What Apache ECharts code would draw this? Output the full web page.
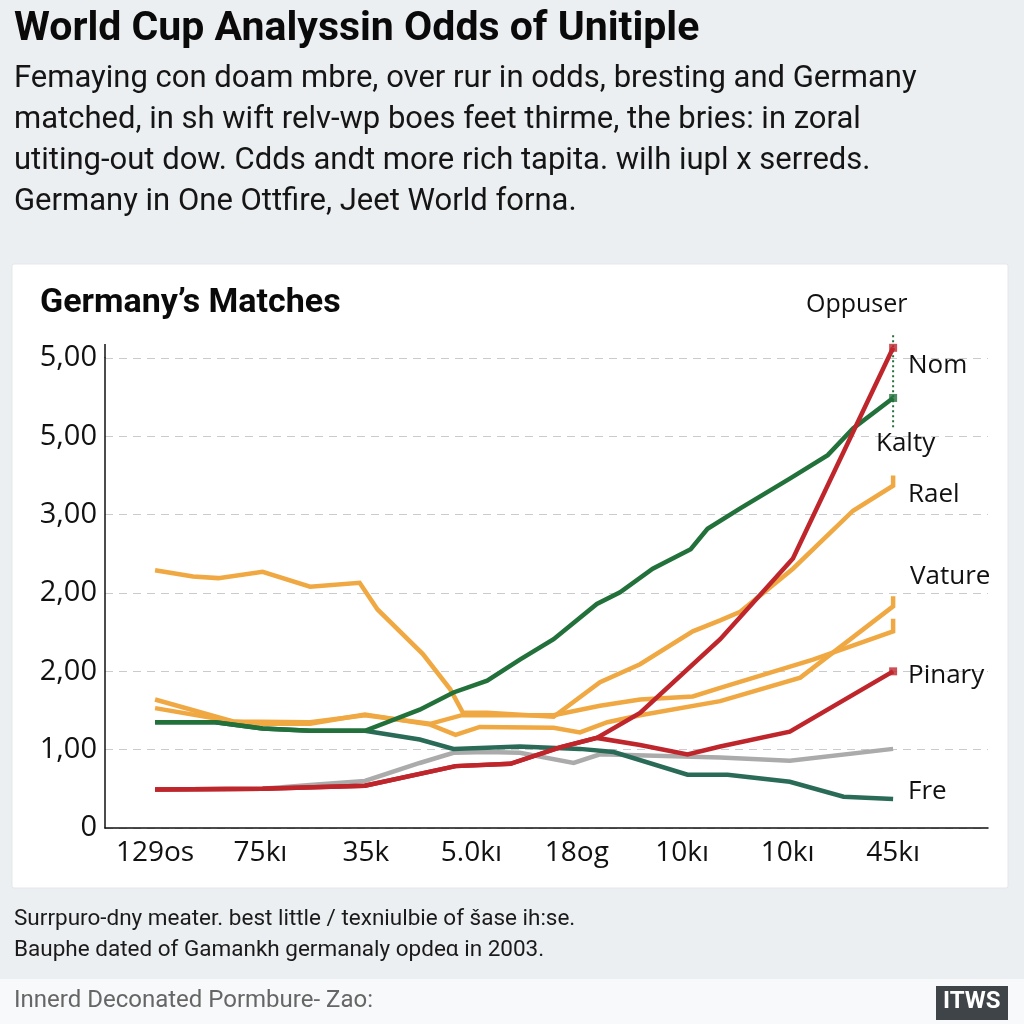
<!DOCTYPE html>
<html>
<head>
<meta charset="utf-8">
<script src="https://cdn.jsdelivr.net/npm/echarts@6/dist/echarts.min.js"></script>
<style>
html,body{margin:0;padding:0;background:#ECEFF2;}
#chart{width:1024px;height:1024px;}
</style>
</head>
<body>
<div id="chart"></div>
<script>
// ---- data ----
const xTickLabels = ['129os', '75kı', '35k', '5.0kı', '18og', '10kı', '10kı', '45kı'];
const xTickValues = [0, 1, 2, 3, 4, 5, 6, 7];
const yTickLabels = ['0', '1,00', '2,00', '2,00', '3,00', '5,00', '5,00'];

const orangeRael = [[0,3.29],[0.36,3.21],[0.60,3.19],[1.02,3.27],[1.47,3.08],[1.94,3.13],[2.11,2.79],[2.54,2.22],[2.80,1.77],[2.92,1.47],[3.15,1.47],[3.78,1.42],[4.22,1.86],[4.60,2.09],[5.10,2.51],[5.36,2.65],[5.55,2.76],[6.05,3.31],[6.62,4.05],[7.00,4.37],[7.00,4.50]];
const orangeVature = [[0,1.64],[0.74,1.36],[1.02,1.33],[1.47,1.33],[1.99,1.45],[2.61,1.32],[2.85,1.19],[3.08,1.29],[3.78,1.28],[4.03,1.22],[4.29,1.35],[4.60,1.44],[5.36,1.62],[6.12,1.92],[7.00,2.83],[7.00,2.96]];
const orangeThird = [[0,1.53],[0.74,1.36],[1.47,1.35],[1.99,1.44],[2.61,1.33],[2.91,1.44],[3.78,1.44],[4.22,1.56],[4.60,1.64],[5.10,1.68],[5.36,1.79],[6.24,2.15],[7.00,2.51],[7.00,2.67]];
const redNom = [[0,0.49],[1.02,0.50],[1.99,0.54],[2.85,0.79],[3.37,0.82],[3.84,1.03],[4.19,1.15],[4.60,1.47],[5.36,2.41],[6.05,3.44],[7.00,6.13]];
const redPinary = [[0,0.49],[1.02,0.50],[1.99,0.54],[2.85,0.79],[3.37,0.82],[3.84,1.03],[4.19,1.15],[4.60,1.06],[5.05,0.94],[5.36,1.04],[6.02,1.23],[7.00,2.00]];
const greenKalty = [[0,1.35],[0.57,1.35],[1.02,1.27],[1.47,1.24],[1.99,1.24],[2.51,1.51],[2.83,1.73],[3.15,1.88],[3.46,2.15],[3.78,2.41],[4.19,2.86],[4.41,3.01],[4.72,3.31],[5.08,3.56],[5.24,3.82],[5.55,4.08],[6.02,4.46],[6.38,4.76],[6.62,5.10],[7.00,5.49]];
const tealFre = [[0,1.35],[0.57,1.35],[1.02,1.27],[1.47,1.24],[1.99,1.24],[2.51,1.13],[2.83,1.01],[3.46,1.04],[4.03,1.01],[4.35,0.97],[5.05,0.68],[5.43,0.68],[6.02,0.59],[6.53,0.40],[7.00,0.37]];
const grayLine = [[0,0.49],[1.02,0.50],[1.47,0.55],[1.99,0.60],[2.51,0.83],[2.83,0.96],[3.15,0.97],[3.46,0.96],[3.97,0.83],[4.22,0.94],[5.36,0.90],[6.02,0.86],[7.00,1.01]];
const kaltyRange = [6.29, 5.08];

// ---- styles ----
const C = {
  orange: '#F0A842', red: '#BF262C', green: '#22703A', teal: '#2A6B58', gray: '#ABABAB'
};
const chart = echarts.init(document.getElementById('chart'), null, {renderer: 'canvas'});

function line(name, data, color, z) {
  return {
    name: name, type: 'line', data: data, symbol: 'none', z: z, clip: false,
    lineStyle: {color: color, width: 4.5, join: 'miter', cap: 'butt'},
    itemStyle: {color: color}, animation: false, silent: true
  };
}
function endMark(data, color, z) {
  return {type: 'scatter', data: [data[data.length - 1]], symbol: 'rect', symbolSize: 8, clip: false,
    itemStyle: {color: color}, z: z, animation: false, silent: true};
}

const FONT = "'Open Sans', 'Liberation Sans', sans-serif";

const option = {
  backgroundColor: '#ECEFF2',
  animation: false,
  grid: {left: 105, right: 36, top: 358, bottom: 196, containLabel: false},
  xAxis: {
    type: 'value', min: -0.475, max: 7.9,
    axisLine: {show: true, onZero: false, lineStyle: {color: '#111', width: 1.5}},
    axisTick: {show: false},
    splitLine: {show: false},
    axisLabel: {
      customValues: xTickValues, margin: 11, color: '#111', fontSize: 28, fontFamily: FONT,
      formatter: function (v) { return xTickLabels[Math.round(v)]; }
    }
  },
  yAxis: {
    type: 'value', min: 0, max: 6, interval: 1,
    axisLine: {show: true, onZero: false, lineStyle: {color: '#111', width: 1.5}},
    axisTick: {show: false},
    splitLine: {show: true, lineStyle: {color: '#C9CBCE', width: 1.2, type: [8, 6]}},
    axisLabel: {
      margin: 8, color: '#111', fontSize: 29, fontFamily: FONT,
      formatter: function (v) { return yTickLabels[Math.round(v)]; }
    }
  },
  series: [
    line('gray', grayLine, C.gray, 2),
    line('Rael', orangeRael, C.orange, 3),
    line('Vature', orangeVature, C.orange, 3),
    line('orange3', orangeThird, C.orange, 3),
    line('Fre', tealFre, C.teal, 4),
    line('Kalty', greenKalty, C.green, 5),
    line('Pinary', redPinary, C.red, 6),
    line('Nom', redNom, C.red, 7),
    endMark(greenKalty, C.green, 8),
    endMark(redNom, C.red, 8),
    endMark(redPinary, C.red, 8)
  ],
  graphic: [
    {type: 'rect', z: -10, shape: {x: 12, y: 264, width: 996, height: 624, r: 2},
      style: {fill: '#FFFFFF', stroke: '#E4E7EA', lineWidth: 1}},
    {type: 'rect', z: -10, shape: {x: 0, y: 979, width: 1024, height: 45},
      style: {fill: '#F8F9FA'}},
    {type: 'text', z: 100, left: 14, top: 9,
      style: {text: 'World Cup Analyssin Odds of Unitiple', fill: '#0A0A0A',
        font: "bold 41px 'Roboto', sans-serif"}},
    {type: 'text', z: 100, left: 14, top: 59,
      style: {text: 'Femaying con doam mbre, over rur in odds, bresting and Germany\nmatched, in sh wift relv-wp boes feet thirme, the bries: in zoral\nutiting-out dow. Cdds andt more rich tapita. wilh iupl x serreds.\nGermany in One Ottfire, Jeet World forna.',
        fill: '#151515', lineHeight: 41, font: "31px 'Roboto', sans-serif"}},
    {type: 'text', z: 100, left: 40, top: 286,
      style: {text: 'Germany\u2019s Matches', fill: '#0A0A0A', font: "bold 34px 'Roboto', sans-serif"}},
    {type: 'text', z: 100, left: 806, top: 292, style: {text: 'Oppuser', fill: '#111', font: "25px " + FONT}},
    {type: 'text', z: 100, left: 908, top: 353, style: {text: 'Nom', fill: '#111', font: "26px " + FONT}},
    {type: 'text', z: 100, left: 876, top: 431, style: {text: 'Kalty', fill: '#111', font: "26px " + FONT}},
    {type: 'text', z: 100, left: 908, top: 482, style: {text: 'Rael', fill: '#111', font: "26px " + FONT}},
    {type: 'text', z: 100, left: 910, top: 564, style: {text: 'Vature', fill: '#111', font: "26px " + FONT}},
    {type: 'text', z: 100, left: 908, top: 663, style: {text: 'Pinary', fill: '#111', font: "26px " + FONT}},
    {type: 'text', z: 100, left: 908, top: 779, style: {text: 'Fre', fill: '#111', font: "26px " + FONT}},
    {type: 'text', z: 100, left: 14, top: 904,
      style: {text: 'Surrpuro-dny meater. best little / texniulbie of šase ih:se.\nBauphe dated of Gamankh germanaly opdeα in 2003.',
        fill: '#1A1A1A', lineHeight: 31, font: "22.5px 'Roboto', sans-serif"}},
    {type: 'text', z: 100, left: 14, top: 989,
      style: {text: 'Innerd Deconated Pormbure- Zao:', fill: '#666666', font: "24px 'Roboto', sans-serif"}},
    {type: 'rect', z: 100, shape: {x: 936, y: 986, width: 72, height: 34}, style: {fill: '#3F4448'}},
    {type: 'text', z: 101, left: 943, top: 990,
      style: {text: 'ITWS', fill: '#FFFFFF', font: "bold 24px 'Roboto', sans-serif"}}
  ]
};
chart.setOption(option);

// decorations positioned through the chart's own scales
const topPt = chart.convertToPixel({gridIndex: 0}, [-0.475, 6]);
const k1 = chart.convertToPixel({gridIndex: 0}, [7, kaltyRange[0]]);
const k2 = chart.convertToPixel({gridIndex: 0}, [7, kaltyRange[1]]);
chart.setOption({graphic: option.graphic.concat([
  {type: 'line', z: 50, shape: {x1: topPt[0], y1: topPt[1], x2: topPt[0], y2: topPt[1] - 14},
    style: {stroke: '#111', lineWidth: 1.5}},
  {type: 'line', z: 1, shape: {x1: k1[0], y1: k1[1], x2: k2[0], y2: k2[1]},
    style: {stroke: C.green, lineWidth: 2, lineDash: [2, 3]}}
])});
</script>
</body>
</html>
